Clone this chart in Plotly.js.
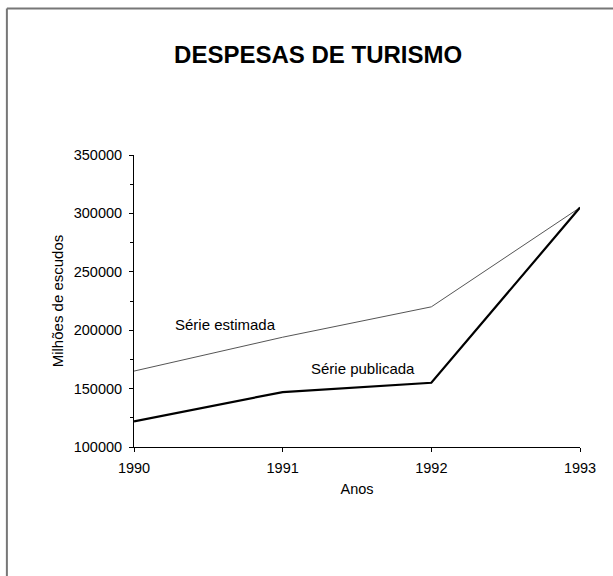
<!DOCTYPE html>
<html>
<head>
<meta charset="utf-8">
<script src="https://cdn.plot.ly/plotly-3.0.1.min.js"></script>
<style>html,body{margin:0;padding:0;background:#fff;}#chart{width:613px;height:576px;}</style>
</head>
<body>
<div id="chart"></div>
<script>
const years = [1990, 1991, 1992, 1993];
const serieEstimada = [165000, 194000, 220000, 305000];
const seriePublicada = [122000, 147000, 155000, 305000];
const yTicks = [100000, 150000, 200000, 250000, 300000, 350000];
const yMinorTicks = [125000, 175000, 225000, 275000, 325000];
const xTicks = [1990, 1991, 1992, 1993];

const font = 'Liberation Sans, Arial, sans-serif';

const traces = [
  {x: years, y: serieEstimada, type: 'scatter', mode: 'lines', name: 'Série estimada',
   line: {color: '#555555', width: 1}},
  {x: years, y: seriePublicada, type: 'scatter', mode: 'lines', name: 'Série publicada',
   line: {color: '#000000', width: 2.2}}
];

const layout = {
  width: 613, height: 576,
  paper_bgcolor: '#ffffff', plot_bgcolor: '#ffffff',
  showlegend: false,
  margin: {l: 134, r: 33, t: 155, b: 129, pad: 0},
  font: {family: font, color: '#000', size: 14.5},
  title: {text: '<b>DESPESAS DE TURISMO</b>', font: {family: font, size: 24, color: '#000'},
          x: 0.519, xanchor: 'center', y: 0.905, yanchor: 'middle', yref: 'container'},
  xaxis: {
    range: [1990, 1993], tickvals: xTicks, ticktext: xTicks.map(String),
    showline: true, linecolor: '#000', linewidth: 1, showgrid: false, zeroline: false,
    ticks: 'outside', ticklen: 4, tickcolor: '#000', tickfont: {size: 14.5},
    ticklabelstandoff: 4,
    title: {text: 'Anos', font: {size: 14.5}, standoff: 8}
  },
  yaxis: {
    range: [100000, 350000], tickvals: yTicks, ticktext: yTicks.map(String),
    showline: true, linecolor: '#000', linewidth: 1, showgrid: false, zeroline: false,
    ticks: 'outside', ticklen: 4, tickcolor: '#000', tickfont: {size: 14.5},
    ticklabelstandoff: 4,
    minor: {tickvals: yMinorTicks, ticks: 'outside', ticklen: 3, tickcolor: '#000'},
    title: {text: 'Milhões de escudos', font: {size: 15}, standoff: 6}
  },
  annotations: [
    {x: 1990.615, y: 205000, xref: 'x', yref: 'y', text: 'Série estimada', showarrow: false,
     font: {size: 15}},
    {x: 1991.54, y: 167500, xref: 'x', yref: 'y', text: 'Série publicada', showarrow: false,
     font: {size: 15}}
  ],
  shapes: [
    {type: 'line', xref: 'paper', yref: 'paper', x0: -0.285, x1: 1.08, y0: 1.502, y1: 1.502,
     line: {color: '#777', width: 2}},
    {type: 'line', xref: 'paper', yref: 'paper', x0: -0.285, x1: -0.285, y0: 1.502, y1: -0.5,
     line: {color: '#777', width: 2}}
  ]
};

Plotly.newPlot('chart', traces, layout, {displayModeBar: false, staticPlot: true});
</script>
</body>
</html>
